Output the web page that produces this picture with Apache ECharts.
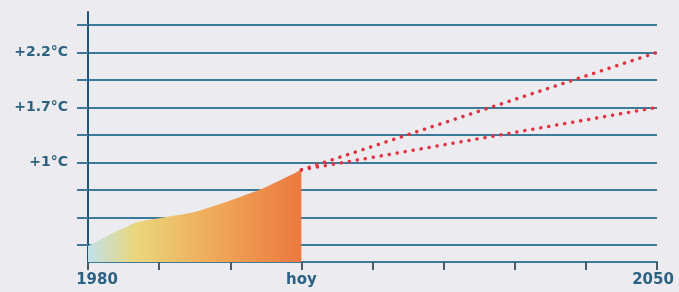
<!DOCTYPE html>
<html>
<head>
<meta charset="utf-8">
<script src="https://cdn.jsdelivr.net/npm/echarts@6/dist/echarts.min.js"></script>
<style>
  html, body { margin: 0; padding: 0; background: #ececf0; }
  #main { width: 679px; height: 292px; }
</style>
</head>
<body>
<div id="main"></div>
<script>
var myChart = echarts.init(document.getElementById('main'));

// x: 9 ticks from 1980 to 2050, "hoy" on the 4th
var xLabels = ['1980', '', '', 'hoy', '', '', '', '', '2050'];
// y: one unit per horizontal line
var yLines = [1, 2, 3, 4, 5, 6, 7, 8, 9];
var yLabelAt = [4, 6, 8];
var yLabels = ['+1°C', '+1.7°C', '+2.2°C'];

// observed warming up to "hoy"
var pastX = [0, 0.35, 0.7, 1.1, 1.5, 2.0, 2.5, 3];
var pastY = [0.95, 1.43, 1.83, 2.02, 2.2, 2.62, 3.1, 3.73];

// projections from hoy to 2050
var highX = [3, 8];
var highY = [3.73, 8];
var lowX = [3, 8];
var lowY = [3.73, 6];

function pairs(xs, ys) {
  return xs.map(function (x, i) { return [x, ys[i]]; });
}

var textColor = '#2b6283';
var lineColor = '#3d7a99';

var option = {
  backgroundColor: '#ececf0',
  animation: false,
  grid: { left: 88, right: 22, top: 12, bottom: 30 },
  xAxis: {
    type: 'value',
    min: 0,
    max: 8,
    interval: 1,
    axisLine: { lineStyle: { color: lineColor, width: 2 } },
    axisTick: { length: 8, lineStyle: { color: '#4a5a66', width: 2 } },
    splitLine: { show: false },
    axisLabel: {
      margin: 11,
      color: textColor,
      fontFamily: 'DejaVu Sans',
      fontWeight: 'bold',
      fontSize: 15,
      formatter: function (v) {
        var s = xLabels[Math.round(v)] || '';
        if (v === 0) return '{l|' + s + '}';
        if (v === 8) return '{r|' + s + '}';
        return s;
      },
      rich: {
        l: { padding: [0, 0, 0, 18], color: textColor, fontFamily: 'DejaVu Sans', fontWeight: 'bold', fontSize: 15 },
        r: { padding: [0, 8, 0, 0], color: textColor, fontFamily: 'DejaVu Sans', fontWeight: 'bold', fontSize: 15 }
      }
    }
  },
  yAxis: {
    type: 'value',
    min: 0.38,
    max: 9.47,
    axisLine: { show: true, lineStyle: { color: '#1e5676', width: 2 } },
    axisTick: {
      show: true,
      length: 11,
      customValues: yLines,
      lineStyle: { color: lineColor, width: 2 }
    },
    splitLine: { show: true, lineStyle: { color: lineColor, width: 2 } },
    axisLabel: {
      customValues: yLabelAt,
      margin: 20,
      color: textColor,
      fontFamily: 'DejaVu Sans',
      fontWeight: 'bold',
      fontSize: 14,
      formatter: function (v) {
        var i = yLabelAt.indexOf(Math.round(v));
        return i >= 0 ? yLabels[i] : '';
      }
    }
  },
  series: [
    {
      type: 'line',
      data: pairs(pastX, pastY),
      smooth: 0.2,
      symbol: 'none',
      lineStyle: { width: 0 },
      areaStyle: {
        opacity: 1,
        color: new echarts.graphic.LinearGradient(0, 0, 1, 0, [
          { offset: 0, color: '#bfe0ea' },
          { offset: 0.22, color: '#ead77e' },
          { offset: 0.55, color: '#efae5c' },
          { offset: 1, color: '#ec7840' }
        ])
      }
    },
    {
      type: 'line',
      data: pairs(highX, highY),
      symbol: 'none',
      lineStyle: { color: '#e2313f', width: 3.5, type: [0.1, 8], cap: 'round' }
    },
    {
      type: 'line',
      data: pairs(lowX, lowY),
      symbol: 'none',
      lineStyle: { color: '#e2313f', width: 3.5, type: [0.1, 8], cap: 'round' }
    }
  ]
};

myChart.setOption(option);
</script>
</body>
</html>
